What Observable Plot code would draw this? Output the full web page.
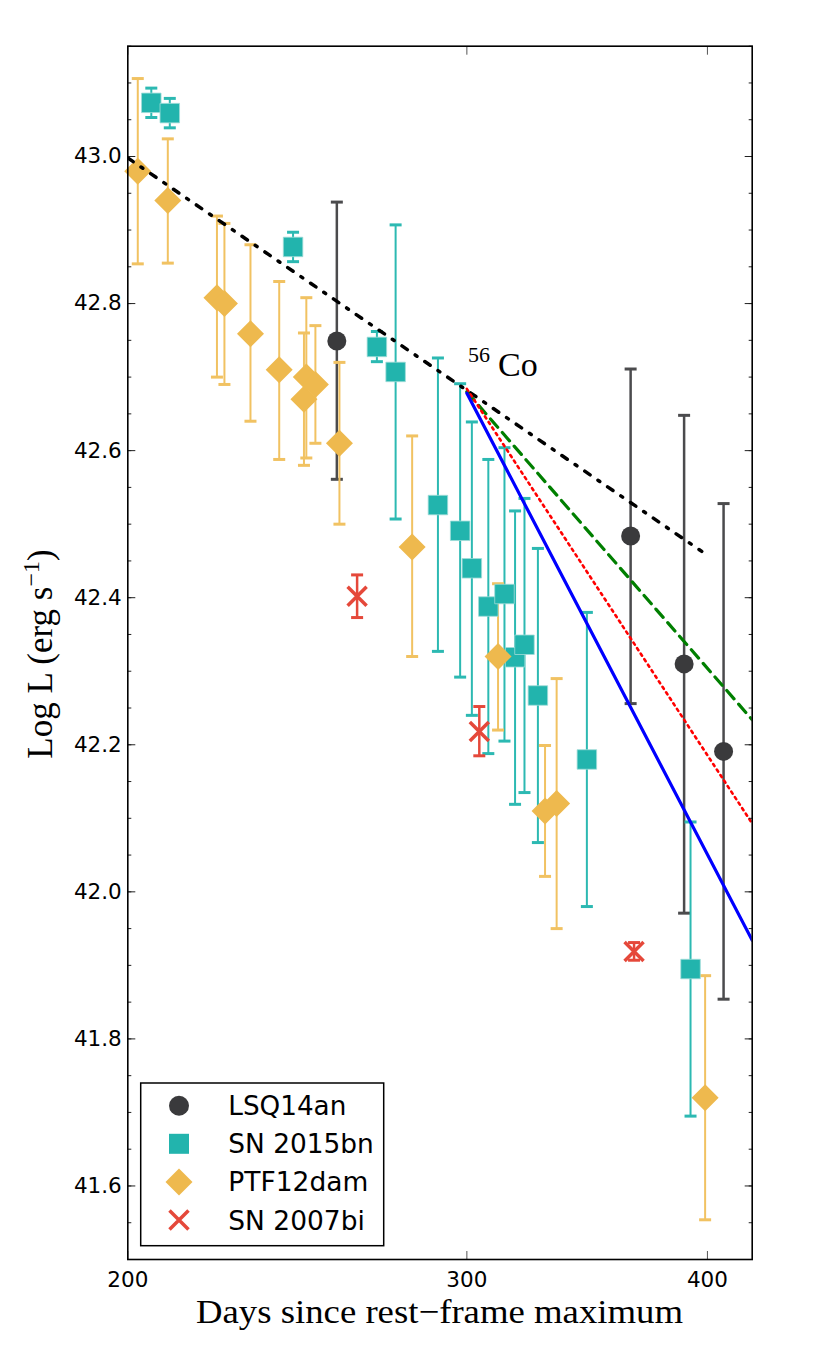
<!DOCTYPE html>
<html><head><meta charset="utf-8">
<script src="https://cdn.jsdelivr.net/npm/d3@7"></script>
<script src="https://cdn.jsdelivr.net/npm/@observablehq/plot@0.6"></script>
<style>body{margin:0;background:#fff}</style>
</head><body><div id="chart"></div>
<script>
// ---- data ----
const seriesNames = ["LSQ14an", "SN 2015bn", "PTF12dam", "SN 2007bi"];

const lsqDays = [256.8, 364.9, 389.0, 407.8];
const lsqLogL = [42.749, 42.484, 42.310, 42.191];
const lsqLo   = [42.561, 42.256, 41.971, 41.854];
const lsqHi   = [42.938, 42.711, 42.648, 42.528];

const bnDays = [205.7, 210.3, 243.7, 269.4, 275.5, 289.8, 297.6, 301.8, 307.8, 313.8, 317.8, 321.4, 326.6, 346.3, 392.0];
const bnLogL = [43.073, 43.059, 42.877, 42.741, 42.707, 42.526, 42.491, 42.440, 42.388, 42.405, 42.319, 42.336, 42.267, 42.180, 41.895];
const bnLo   = [43.053, 43.039, 42.857, 42.721, 42.507, 42.327, 42.292, 42.240, 42.188, 42.205, 42.119, 42.135, 42.067, 41.980, 41.695];
const bnHi   = [43.093, 43.079, 42.897, 42.762, 42.907, 42.726, 42.691, 42.639, 42.588, 42.604, 42.518, 42.535, 42.467, 42.380, 42.095];

const ptfDays = [202.4, 209.8, 222.5, 224.5, 231.6, 239.7, 246.9, 247.6, 250.3, 257.6, 281.0, 311.4, 329.4, 334.0, 398.9];
const ptfLogL = [42.980, 42.940, 42.808, 42.800, 42.759, 42.710, 42.670, 42.700, 42.690, 42.610, 42.469, 42.320, 42.110, 42.120, 41.720];
const ptfLo   = [42.854, 42.855, 42.700, 42.690, 42.640, 42.588, 42.580, 42.590, 42.610, 42.500, 42.320, 42.220, 42.021, 41.950, 41.554];
const ptfHi   = [43.106, 43.024, 42.919, 42.909, 42.880, 42.830, 42.760, 42.808, 42.770, 42.720, 42.620, 42.419, 42.199, 42.290, 41.886];

const biDays = [263.1, 304.5, 366.4];
const biLogL = [42.402, 42.218, 41.919];
const biLo   = [42.373, 42.185, 41.907];
const biHi   = [42.431, 42.252, 41.931];

// model curves
const coDays = [200, 397.3];
const coLogL = [42.998, 42.463];
const greenDays = [300, 422];
const greenLogL = [42.680, 42.234];
const redDays = [300, 422];
const redLogL = [42.684, 42.093];
const blueDays = [300, 422];
const blueLogL = [42.678, 41.934];

const annotation = [{day: 300.4, logL: 42.702}];

const xTicks = [200, 300, 400];
const yMajor = [41.6, 41.8, 42.0, 42.2, 42.4, 42.6, 42.8, 43.0];
const yMinor = d3.range(41.55, 43.151, 0.05).map(v => +v.toFixed(2));

// ---- helpers ----
const rows = (d, l, lo, hi) => d.map((x, i) => ({day: x, logL: l[i], lo: lo[i], hi: hi[i]}));
const pts = (d, l) => d.map((x, i) => ({day: x, logL: l[i]}));
const lsq = rows(lsqDays, lsqLogL, lsqLo, lsqHi);
const bn = rows(bnDays, bnLogL, bnLo, bnHi);
const ptf = rows(ptfDays, ptfLogL, ptfLo, ptfHi);
const bi = rows(biDays, biLogL, biLo, biHi);

const rad = s => Math.sqrt(s / Math.PI);
const capSym = {draw(c, s) { const r = rad(s); c.moveTo(-r, 0); c.lineTo(r, 0); }};
const diamondSym = {draw(c, s) { const r = rad(s); c.moveTo(0, -r); c.lineTo(r, 0); c.lineTo(0, r); c.lineTo(-r, 0); c.closePath(); }};
const squareSym = {draw(c, s) { const r = rad(s); c.rect(-r, -r, 2 * r, 2 * r); }};
const timesSym = {draw(c, s) { const r = rad(s); c.moveTo(-r, -r); c.lineTo(r, r); c.moveTo(-r, r); c.lineTo(r, -r); }};

const C = {lsq: "#3a3a3c", lsqBar: "#4b4b4d", bn: "#22b4ad", bnBar: "#2cb9b2", ptf: "#eeb94e", ptfBar: "#f1c262", bi: "#e5483a"};

function errMarks(data, color, w) {
  return [
    Plot.ruleX(data, {x: "day", y1: "lo", y2: "hi", stroke: color, strokeWidth: w}),
    Plot.dot(data, {x: "day", y: "lo", symbol: capSym, r: 6, stroke: color, strokeWidth: 3, fill: "none"}),
    Plot.dot(data, {x: "day", y: "hi", symbol: capSym, r: 6, stroke: color, strokeWidth: 3, fill: "none"})
  ];
}

const plot = Plot.plot({
  width: 830,
  height: 1367,
  marginLeft: 127.3,
  marginRight: 78.3,
  marginTop: 45.7,
  marginBottom: 108,
  style: {fontFamily: "DejaVu Sans", fontSize: "21px", color: "black", background: "white"},
  x: {type: "log", domain: [200, 422]},
  y: {domain: [41.5, 43.15]},
  marks: [
    ...errMarks(lsq, C.lsqBar, 2.5),
    ...errMarks(bn, C.bnBar, 2),
    ...errMarks(ptf, C.ptfBar, 2),
    ...errMarks(bi, C.bi, 2.5),
    Plot.dot(lsq, {x: "day", y: "logL", r: 9.5, fill: C.lsq}),
    Plot.dot(bn, {x: "day", y: "logL", symbol: squareSym, r: 9.75, fill: C.bn, stroke: "#9fdcd8", strokeWidth: 0.8}),
    Plot.dot(ptf, {x: "day", y: "logL", symbol: diamondSym, r: 13.5, fill: C.ptf}),
    Plot.dot(bi, {x: "day", y: "logL", symbol: timesSym, r: 9.5, stroke: C.bi, strokeWidth: 3.5, fill: "none"}),
    Plot.line(pts(coDays, coLogL), {x: "day", y: "logL", stroke: "black", strokeWidth: 3.5, strokeDasharray: "6.5,9.5,2.2,9.5", clip: true}),
    Plot.line(pts(greenDays, greenLogL), {x: "day", y: "logL", stroke: "#007f00", strokeWidth: 3.2, strokeDasharray: "11,7", clip: true}),
    Plot.line(pts(redDays, redLogL), {x: "day", y: "logL", stroke: "#ff0000", strokeWidth: 2.6, strokeDasharray: "2.4,4.2", clip: true}),
    Plot.line(pts(blueDays, blueLogL), {x: "day", y: "logL", stroke: "#0000ff", strokeWidth: 3.2, clip: true}),
    Plot.text(annotation, {x: "day", y: "logL", text: () => "56", textAnchor: "start", lineAnchor: "bottom", dy: -13.3, fontFamily: "Liberation Serif", fontSize: 22, fill: "black"}),
    Plot.text(annotation, {x: "day", y: "logL", text: () => "Co", textAnchor: "start", lineAnchor: "bottom", dx: 30, fontFamily: "Liberation Serif", fontSize: 34, fill: "black"}),
    Plot.axisY({anchor: "left", ticks: yMajor, tickSize: 0, tickPadding: 6, tickFormat: d3.format(".1f"), fontSize: 21.5, label: null}),
    Plot.axisY({anchor: "left", ticks: yMajor, tickSize: -8, fill: "none", label: null, stroke: "#222"}),
    Plot.axisY({anchor: "left", ticks: yMinor, tickSize: -4, fill: "none", label: null, stroke: "#222"}),
    Plot.axisY({anchor: "right", ticks: yMajor, tickSize: -8, fill: "none", label: null, stroke: "#222"}),
    Plot.axisY({anchor: "right", ticks: yMinor, tickSize: -4, fill: "none", label: null, stroke: "#222"}),
    Plot.axisX({anchor: "bottom", ticks: xTicks, tickSize: 0, tickPadding: 12, tickFormat: d => String(d), fontSize: 21.5, label: null}),
    Plot.axisX({anchor: "bottom", ticks: xTicks, tickSize: -8, fill: "none", label: null, stroke: "#555"}),
    Plot.axisX({anchor: "top", ticks: xTicks, tickSize: -8, fill: "none", label: null, stroke: "#555"}),
    Plot.frame({stroke: "black", strokeWidth: 1.6})
  ]
});

document.getElementById("chart").appendChild(plot);

// ---- axis titles & legend (added to the SVG) ----
const svg = d3.select(plot);
svg.append("text")
  .attr("x", 439.5).attr("y", 1323)
  .attr("text-anchor", "middle")
  .attr("font-family", "Liberation Serif").attr("font-size", 34)
  .attr("textLength", 487).attr("lengthAdjust", "spacingAndGlyphs")
  .attr("fill", "black")
  .text("Days since rest\u2212frame maximum");

const yl = svg.append("text")
  .attr("transform", "translate(52,654) rotate(-90)")
  .attr("text-anchor", "middle")
  .attr("font-family", "Liberation Serif").attr("font-size", 35)
  .attr("fill", "black");
yl.append("tspan").text("Log L (erg s");
yl.append("tspan").attr("dy", -13).attr("font-size", 24).text("\u22121");
yl.append("tspan").attr("dy", 13).text(")");

const lg = svg.append("g");
lg.append("rect").attr("x", 140.7).attr("y", 1083).attr("width", 243).attr("height", 162.7)
  .attr("fill", "white").attr("stroke", "black").attr("stroke-width", 1.5);
const rowY = i => 1105.7 + i * 38.1;
const mx = 179;
lg.append("circle").attr("cx", mx).attr("cy", rowY(0)).attr("r", 10).attr("fill", C.lsq);
lg.append("rect").attr("x", mx - 10).attr("y", rowY(1) - 10).attr("width", 20).attr("height", 20).attr("fill", C.bn);
lg.append("path").attr("d", `M${mx},${rowY(2) - 13.5}L${mx + 13.5},${rowY(2)}L${mx},${rowY(2) + 13.5}L${mx - 13.5},${rowY(2)}Z`).attr("fill", C.ptf);
lg.append("path").attr("d", `M${mx - 9.5},${rowY(3) - 9.5}L${mx + 9.5},${rowY(3) + 9.5}M${mx - 9.5},${rowY(3) + 9.5}L${mx + 9.5},${rowY(3) - 9.5}`).attr("stroke", C.bi).attr("stroke-width", 3.5).attr("fill", "none");
const legendWidths = [118, 145.5, 140, 136.5];
seriesNames.forEach((n, i) => {
  lg.append("text").attr("x", 228.3).attr("y", rowY(i)).attr("dy", "0.36em")
    .attr("text-anchor", "start")
    .attr("font-family", "DejaVu Sans").attr("font-size", 26.5).attr("fill", "black")
    .attr("textLength", legendWidths[i]).attr("lengthAdjust", "spacingAndGlyphs")
    .text(n);
});
</script>
</body></html>
